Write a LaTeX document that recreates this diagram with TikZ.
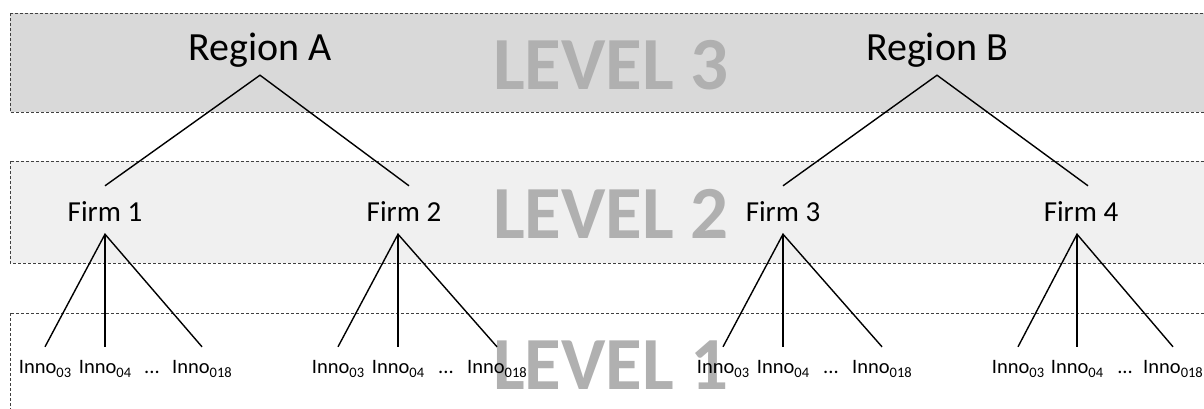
\documentclass[tikz,border=0pt]{standalone}
\usepackage{fontspec}
\setmainfont{Carlito}
\definecolor{bandthree}{HTML}{D9D9D9}
\definecolor{bandtwo}{HTML}{F0F0F0}
\definecolor{levgray}{HTML}{B0B0B0}
\definecolor{dashgray}{HTML}{404040}
\newcommand\innosub[1]{\raisebox{-0.22em}{\fontsize{14.5}{14.5}\selectfont #1}}
\tikzset{
  band/.style={draw=dashgray, dash pattern=on 3pt off 2pt, line width=0.8pt},
  leveltext/.style={font=\fontsize{75}{75}\selectfont\bfseries, text=levgray, anchor=base, inner sep=0pt},
  regiontext/.style={font=\fontsize{40}{40}\selectfont, anchor=base, inner sep=0pt, text height=28pt, text depth=15pt},
  firmtext/.style={font=\fontsize{29}{29}\selectfont, anchor=base, inner sep=0pt, text height=35pt, text depth=13pt},
  innotext/.style={font=\fontsize{20.5}{20.5}\selectfont, anchor=base, inner sep=0pt, text height=26pt, text depth=6pt},
  link/.style={line width=1.4pt, black}
}
\begin{document}
\begin{tikzpicture}[x=1pt,y=-1pt]
\useasboundingbox (0,0) rectangle (1204,408);
\fill[white] (0,0) rectangle (1204,408);
% bands
\path[band, fill=bandthree] (10,13) rectangle (1230,112);
\path[band, fill=bandtwo] (10,161) rectangle (1230,263);
\path[band, fill=white] (10,313) rectangle (1230,430);
% level labels
\node[leveltext] (lv3) at (611,89) {LEVEL 3};
\node[leveltext] (lv2) at (611,238) {LEVEL 2};
\node[leveltext] (lv1) at (611,389) {LEVEL 1};
% regions
\node[regiontext] (rA) at (260,60) {Region A};
\node[regiontext] (rB) at (937,60) {Region B};
% firms
\node[firmtext] (f1) at (105,221) {Firm 1};
\node[firmtext] (f2) at (404,221) {Firm 2};
\node[firmtext] (f3) at (783,221) {Firm 3};
\node[firmtext] (f4) at (1081,221) {Firm 4};
% innovations
\node[innotext] (f1a) at (45,373) {Inno\innosub{03}};
\node[innotext] (f1b) at (105,373) {Inno\innosub{04}};
\node[innotext] (f1d) at (152,373) {...};
\node[innotext] (f1c) at (202,373) {Inno\innosub{018}};
\node[innotext] (f2a) at (338,373) {Inno\innosub{03}};
\node[innotext] (f2b) at (398,373) {Inno\innosub{04}};
\node[innotext] (f2d) at (446,373) {...};
\node[innotext] (f2c) at (497,373) {Inno\innosub{018}};
\node[innotext] (f3a) at (723,373) {Inno\innosub{03}};
\node[innotext] (f3b) at (783,373) {Inno\innosub{04}};
\node[innotext] (f3d) at (831,373) {...};
\node[innotext] (f3c) at (882,373) {Inno\innosub{018}};
\node[innotext] (f4a) at (1018,373) {Inno\innosub{03}};
\node[innotext] (f4b) at (1077,373) {Inno\innosub{04}};
\node[innotext] (f4d) at (1125,373) {...};
\node[innotext] (f4c) at (1173,373) {Inno\innosub{018}};
% connectors level 3 -> 2
\draw[link] (f1.north) -- (rA.south) -- ([xshift=5pt]f2.north);
\draw[link] (f3.north) -- (rB.south) -- ([xshift=7pt]f4.north);
% connectors level 2 -> 1
\draw[link] (f1a.north) -- (f1.south) -- (f1c.north);
\draw[link] (f1.south) -- (f1b.north);
\draw[link] (f2a.north) -- ([xshift=-6pt]f2.south) -- (f2c.north);
\draw[link] ([xshift=-6pt]f2.south) -- (f2b.north);
\draw[link] (f3a.north) -- (f3.south) -- (f3c.north);
\draw[link] (f3.south) -- (f3b.north);
\draw[link] (f4a.north) -- ([xshift=-4pt]f4.south) -- (f4c.north);
\draw[link] ([xshift=-4pt]f4.south) -- (f4b.north);
\end{tikzpicture}
\end{document}
